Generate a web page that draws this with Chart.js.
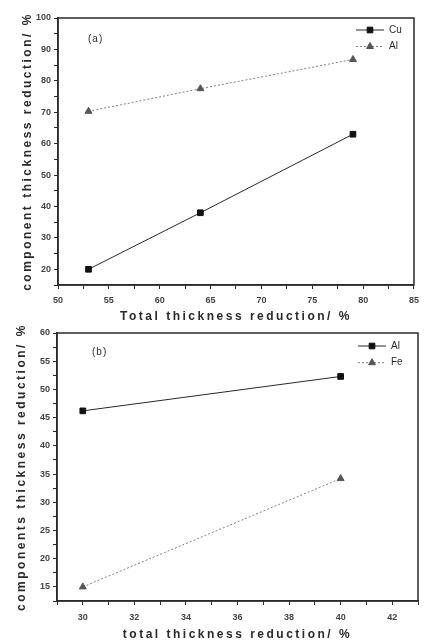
<!DOCTYPE html>
<html>
<head>
<meta charset="utf-8">
<script src="https://cdn.jsdelivr.net/npm/chart.js@4.4.0/dist/chart.umd.min.js"></script>
<style>
  body { margin: 0; background: #fff; }
  canvas { position: absolute; left: 0; }
  #chartA { top: 0; }
  #chartB { top: 314px; }
</style>
</head>
<body>
<canvas id="chartA" width="425" height="326"></canvas>
<canvas id="chartB" width="425" height="329"></canvas>
<script>
// panel (a): Cu / Al
const totalA = [53, 64, 79];
const cuA = [20, 38, 63];
const alA = [70.3, 77.5, 86.8];

// panel (b): Al / Fe
const totalB = [30, 40];
const alB = [46.2, 52.3];
const feB = [15, 34.2];

const xy = (xs, ys) => xs.map((x, i) => ({ x: x, y: ys[i] }));

const ink = "#2a2a2a";
const grey = "#808080";
const family = "'Liberation Sans', Arial, sans-serif";

// spaced lettering for the axis titles (drawn before datasets), none for tick labels
const spacing = {
  id: "spacing",
  beforeDraw(chart) { chart.ctx.letterSpacing = "2.5px"; },
  beforeDatasetsDraw(chart) { chart.ctx.letterSpacing = "0px"; },
};

// box round the plot, panel tag and the inline legend
const frame = {
  id: "frame",
  afterDraw(chart, args, opts) {
    const ctx = chart.ctx;
    const a = chart.chartArea;
    ctx.save();
    ctx.strokeStyle = ink;
    ctx.lineWidth = 1.5;
    ctx.strokeRect(a.left, a.top, a.right - a.left, a.bottom - a.top);

    ctx.fillStyle = ink;
    ctx.textBaseline = "middle";
    ctx.letterSpacing = "1px";
    ctx.font = "10px " + family;
    ctx.fillText(opts.tag, a.left + opts.tagX, a.top + opts.tagY);

    ctx.letterSpacing = "0px";
    chart.data.datasets.forEach((ds, i) => {
      const y = a.top + opts.legY + i * opts.legGap;
      const x0 = a.right - opts.legRight;
      ctx.strokeStyle = ds.borderColor;
      ctx.lineWidth = 1;
      ctx.setLineDash(ds.borderDash || []);
      ctx.beginPath();
      ctx.moveTo(x0, y);
      ctx.lineTo(x0 + 28, y);
      ctx.stroke();
      ctx.setLineDash([]);
      ctx.fillStyle = ds.pointBackgroundColor;
      ctx.strokeStyle = ds.pointBorderColor;
      Chart.helpers.drawPoint(ctx, { pointStyle: ds.pointStyle, radius: ds.pointRadius, borderWidth: 1 }, x0 + 14, y);
      ctx.fillStyle = ink;
      ctx.fillText(ds.label, x0 + 33, y);
    });
    ctx.restore();
  }
};

function isMajor(v, major) {
  return Math.abs(v / major - Math.round(v / major)) < 1e-6;
}

function axes(o) {
  const tickFont = { family: family, size: 9, weight: "bold" };
  const titleFont = { family: family, size: 12, weight: "bold" };
  return {
    x: {
      type: "linear",
      min: o.xMin,
      max: o.xMax,
      afterFit: (s) => { s.height = o.xH; },
      grid: { drawOnChartArea: false, tickLength: 4, tickColor: ink },
      border: { color: ink, width: 1.5 },
      ticks: {
        stepSize: o.xStep, autoSkip: false, maxRotation: 0, padding: o.xPad, z: 1,
        color: "#444", font: tickFont,
        callback: (v) => (isMajor(v, o.xMajor) ? v : ""),
      },
      title: { display: true, text: o.xTitle, color: ink, font: titleFont, padding: { top: 0, bottom: o.xTitlePad } },
    },
    y: {
      min: o.yMin,
      max: o.yMax,
      afterFit: (s) => { s.width = o.yW; },
      grid: { drawOnChartArea: false, tickLength: 4, tickColor: ink },
      border: { color: ink, width: 1.5 },
      ticks: {
        stepSize: o.yStep, autoSkip: false, padding: 3, z: 1,
        color: "#444", font: tickFont,
        callback: (v) => (isMajor(v, o.yMajor) ? v : ""),
      },
      title: { display: true, text: o.yTitle, color: ink, font: titleFont, padding: { top: o.yTitlePad, bottom: 0 } },
    },
  };
}

function series(label, data, solid) {
  const col = solid ? ink : grey;
  const mark = solid ? "#111" : "#555";
  return {
    label: label,
    data: data,
    borderColor: col,
    borderWidth: 1,
    borderDash: solid ? [] : [2, 2],
    pointStyle: solid ? "rect" : "triangle",
    pointRadius: 4,
    pointBackgroundColor: mark,
    pointBorderColor: mark,
  };
}

new Chart(document.getElementById("chartA"), {
  type: "line",
  data: {
    datasets: [
      series("Cu", xy(totalA, cuA), true),
      series("Al", xy(totalA, alA), false),
    ],
  },
  options: {
    responsive: false,
    animation: false,
    layout: { padding: { top: 18, right: 7, left: 0, bottom: 0 } },
    scales: axes({
      xMin: 50, xMax: 85, xStep: 2.5, xMajor: 5, xH: 41, xPad: 6, xTitlePad: 2,
      xTitle: "Total thickness reduction/ %",
      yMin: 15, yMax: 100, yStep: 5, yMajor: 10, yW: 58, yTitlePad: 20,
      yTitle: "component thickness reduction/ %",
    }),
    plugins: {
      legend: { display: false },
      tooltip: { enabled: false },
      frame: { tag: "(a)", tagX: 30, tagY: 21, legRight: 58, legY: 12, legGap: 16.5 },
    },
  },
  plugins: [spacing, frame],
});

new Chart(document.getElementById("chartB"), {
  type: "line",
  data: {
    datasets: [
      series("Al", xy(totalB, alB), true),
      series("Fe", xy(totalB, feB), false),
    ],
  },
  options: {
    responsive: false,
    animation: false,
    layout: { padding: { top: 19, right: 7, left: 0, bottom: 0 } },
    scales: axes({
      xMin: 29, xMax: 43, xStep: 1, xMajor: 2, xH: 42, xPad: 7, xTitlePad: 1,
      xTitle: "total thickness reduction/ %",
      yMin: 12.5, yMax: 60, yStep: 2.5, yMajor: 5, yW: 57, yTitlePad: 14,
      yTitle: "components thickness reduction/ %",
    }),
    plugins: {
      legend: { display: false },
      tooltip: { enabled: false },
      frame: { tag: "(b)", tagX: 35, tagY: 19, legRight: 60, legY: 13, legGap: 16.7 },
    },
  },
  plugins: [spacing, frame],
});
</script>
</body>
</html>
